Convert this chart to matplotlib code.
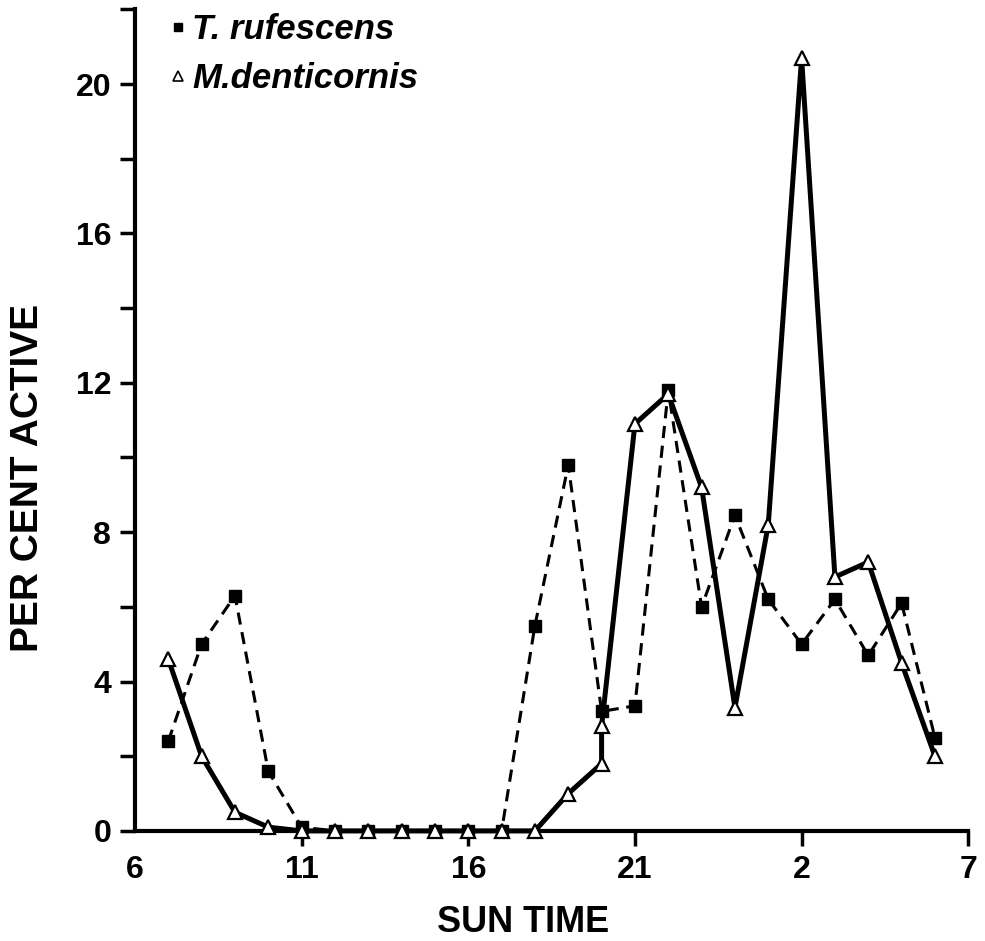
import matplotlib
matplotlib.use('Agg')
import matplotlib.pyplot as plt
from matplotlib.lines import Line2D

# Horas (6 = 06:00, 26 = 02:00 do dia seguinte)
tr_hours = [7, 8, 9, 10, 11, 12, 13, 14, 15, 16, 17, 18, 19, 20, 21, 22, 23, 24, 25, 26, 27, 28, 29, 30]
tr_values = [2.4, 5.0, 6.3, 1.6, 0.1, 0, 0, 0, 0, 0, 0, 5.5, 9.8, 3.2, 3.35, 11.8, 6.0, 8.45, 6.2, 5.0, 6.2, 4.7, 6.1, 2.5]

md_hours = [7, 8, 9, 10, 11, 12, 13, 14, 15, 16, 17, 18, 19, 20, 20, 21, 22, 23, 24, 25, 26, 27, 28, 29, 30]
md_values = [4.6, 2.0, 0.5, 0.1, 0, 0, 0, 0, 0, 0, 0, 0, 1.0, 1.8, 2.8, 10.9, 11.7, 9.2, 3.3, 8.2, 20.7, 6.8, 7.2, 4.5, 2.0]

x_ticks = [6, 11, 16, 21, 26, 31]
x_labels = ['6', '11', '16', '21', '2', '7']
y_ticks = [0, 4, 8, 12, 16, 20]
y_minor = [2, 6, 10, 14, 18, 22]

plt.rcParams['font.family'] = ['Liberation Sans', 'DejaVu Sans']
plt.rcParams['font.weight'] = 'bold'

fig = plt.figure(figsize=(9.85, 9.41), dpi=100)
ax = fig.add_axes([0.137, 0.117, 0.846, 0.873])

# T. rufescens - tracejado com quadrados
ax.plot(tr_hours, tr_values, color='black', linestyle=(0, (4, 2.5)), linewidth=2.2,
        marker='s', markersize=8, markerfacecolor='black', markeredgecolor='black',
        zorder=3, clip_on=False)
# M. denticornis - linha cheia com triângulos
ax.plot(md_hours, md_values, color='black', linestyle='-', linewidth=3.6,
        marker='^', markersize=10, markerfacecolor='white', markeredgecolor='black',
        markeredgewidth=1.6, zorder=4, clip_on=False)

ax.set_xlim(6, 31)
ax.set_ylim(0, 22)

ax.set_xticks(x_ticks)
ax.set_xticklabels(x_labels)
ax.set_yticks(y_ticks)
ax.set_yticks(y_minor, minor=True)

for s in ['top', 'right']:
    ax.spines[s].set_visible(False)
for s in ['left', 'bottom']:
    ax.spines[s].set_linewidth(3)

ax.tick_params(axis='both', which='both', direction='out', width=2.5, length=11,
               labelsize=23, pad=6)
ax.xaxis.get_major_ticks()[0].tick1line.set_visible(False)

ax.set_xlabel('SUN TIME', fontsize=26, fontweight='bold')
ax.xaxis.set_label_coords(0.466, -0.09)
ax.set_ylabel('PER CENT ACTIVE', fontsize=28, fontweight='bold')
ax.yaxis.set_label_coords(-0.107, 0.43)

handles = [
    Line2D([], [], linestyle='none', marker='s', markersize=6, color='black'),
    Line2D([], [], linestyle='none', marker='^', markersize=7, markerfacecolor='white',
           markeredgecolor='black', markeredgewidth=1.2),
]
ax.legend(handles, ['T. rufescens', 'M.denticornis'], loc='upper left',
          bbox_to_anchor=(0.027, 1.012), frameon=False, handlelength=0.4,
          handletextpad=0.2, labelspacing=0.45, borderaxespad=0,
          prop={'size': 25, 'weight': 'bold', 'style': 'italic'})

fig.savefig('out.png', dpi=100)
